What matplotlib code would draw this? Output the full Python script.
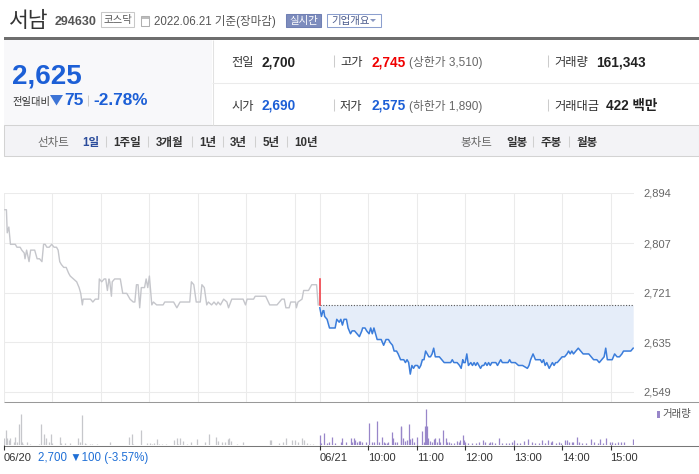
import matplotlib
matplotlib.use('Agg')
import matplotlib.pyplot as plt
from matplotlib.patches import Rectangle, Polygon

plt.rcParams['font.family'] = ['Liberation Sans', 'DejaVu Sans', 'Noto Sans CJK KR']

# ---- quote numbers ----
name = '서남'
code = '294630'
market = '코스닥'
as_of = '2022.06.21 기준(장마감)'
last_price = '2,625'
change = '75'
change_pct = '-2.78%'
prev_close = 2700
day2_high = 2745

# intraday price, (minutes after 09:00, price)
day1_ticks = [
    (1, 2865), (3, 2865), (4, 2825), (6, 2835), (8, 2805), (14, 2805), (16, 2800), (20, 2800),
    (22, 2795), (25, 2790), (26, 2780), (28, 2795), (31, 2775), (33, 2795), (38, 2795), (41, 2780),
    (44, 2780), (47, 2775), (49, 2805), (51, 2805), (53, 2800), (56, 2800), (59, 2805), (62, 2800),
    (65, 2800), (67, 2795), (69, 2775), (71, 2770), (74, 2765), (77, 2765), (80, 2755), (82, 2750),
    (86, 2745), (90, 2740), (93, 2730), (95, 2720), (97, 2700), (98, 2710), (107, 2710), (110, 2705),
    (113, 2710), (117, 2710), (118, 2745), (121, 2740), (124, 2745), (126, 2745), (128, 2725), (130, 2745),
    (131, 2740), (133, 2715), (134, 2740), (137, 2745), (144, 2745), (147, 2720), (152, 2720), (156, 2710),
    (160, 2705), (162, 2705), (164, 2735), (166, 2735), (168, 2695), (170, 2730), (174, 2730), (176, 2745),
    (178, 2730), (180, 2750), (183, 2700), (185, 2705), (189, 2700), (197, 2700), (199, 2705), (210, 2705),
    (214, 2695), (218, 2705), (230, 2705), (232, 2740), (235, 2735), (238, 2705), (240, 2705), (243, 2705),
    (245, 2735), (248, 2730), (251, 2700), (253, 2705), (257, 2700), (260, 2705), (263, 2700), (265, 2705),
    (268, 2700), (272, 2710), (276, 2705), (278, 2695), (282, 2710), (296, 2710), (299, 2700), (301, 2710),
    (309, 2710), (311, 2715), (324, 2715), (329, 2700), (338, 2700), (344, 2710), (347, 2710), (349, 2695),
    (353, 2695), (355, 2705), (361, 2705), (362, 2695), (364, 2705), (369, 2710), (371, 2725), (377, 2725),
    (381, 2735), (387, 2735), (389, 2700),
]
day2_ticks = [
    (0, 2695), (2, 2680), (4, 2690), (5, 2690), (6, 2680), (9, 2675), (12, 2660), (15, 2660),
    (19, 2660), (21, 2675), (24, 2670), (26, 2675), (28, 2665), (30, 2675), (33, 2675), (35, 2660),
    (38, 2650), (40, 2655), (43, 2655), (46, 2650), (49, 2645), (52, 2655), (53, 2660), (56, 2660),
    (58, 2655), (61, 2650), (63, 2660), (65, 2650), (67, 2660), (69, 2650), (71, 2640), (74, 2640),
    (76, 2640), (79, 2630), (82, 2640), (85, 2640), (87, 2635), (90, 2630), (92, 2620), (95, 2620),
    (97, 2615), (100, 2605), (104, 2605), (106, 2600), (108, 2605), (110, 2600), (112, 2580), (114, 2595),
    (116, 2590), (118, 2595), (121, 2595), (123, 2590), (125, 2595), (127, 2605), (129, 2605), (131, 2620),
    (133, 2615), (135, 2610), (137, 2610), (139, 2615), (141, 2625), (143, 2610), (146, 2610), (148, 2610),
    (151, 2605), (154, 2600), (160, 2600), (162, 2600), (164, 2605), (166, 2600), (170, 2600), (173, 2595),
    (175, 2590), (177, 2605), (178, 2600), (180, 2600), (182, 2615), (184, 2595), (187, 2600), (189, 2595),
    (191, 2600), (193, 2595), (195, 2600), (197, 2595), (199, 2590), (201, 2595), (203, 2595), (205, 2600),
    (207, 2595), (209, 2600), (211, 2595), (213, 2600), (215, 2600), (218, 2600), (220, 2595), (222, 2600),
    (224, 2605), (226, 2600), (230, 2600), (233, 2600), (235, 2605), (237, 2600), (242, 2600), (246, 2595),
    (251, 2595), (257, 2590), (259, 2595), (261, 2605), (264, 2615), (267, 2605), (271, 2605), (273, 2605),
    (275, 2600), (277, 2605), (279, 2595), (281, 2600), (284, 2590), (286, 2595), (288, 2600), (290, 2595),
    (292, 2600), (294, 2600), (297, 2605), (300, 2610), (303, 2610), (306, 2615), (308, 2620), (310, 2615),
    (312, 2620), (314, 2615), (317, 2620), (320, 2625), (323, 2620), (326, 2615), (329, 2615), (333, 2615),
    (336, 2610), (339, 2605), (343, 2605), (346, 2600), (349, 2605), (352, 2610), (354, 2625), (356, 2605),
    (359, 2605), (362, 2605), (365, 2615), (368, 2610), (371, 2610), (374, 2615), (376, 2620), (383, 2620),
    (385, 2620), (388, 2625),
]

# volume per minute bar
day1_volume = [
    (0, 2200), (3, 4500), (4, 2000), (6, 1500), (8, 2200), (12, 1000), (14, 2500), (16, 1000),
    (19, 6200), (21, 9300), (22, 1000), (24, 200), (29, 1000), (32, 200), (43, 200), (46, 6300),
    (49, 1000), (50, 3200), (52, 2000), (56, 1000), (58, 3200), (60, 700), (69, 2400), (71, 500),
    (76, 500), (82, 500), (91, 2200), (94, 800), (97, 9000), (100, 700), (102, 200), (106, 200),
    (109, 200), (115, 200), (131, 800), (155, 2400), (158, 3200), (160, 200), (169, 4600), (177, 500),
    (181, 500), (183, 200), (186, 500), (189, 1700), (192, 200), (196, 200), (201, 200), (211, 1500),
    (214, 2000), (216, 200), (218, 2000), (221, 1200), (226, 200), (232, 1000), (239, 1700), (249, 800),
    (254, 3200), (263, 2500), (265, 1200), (270, 1000), (274, 1000), (277, 1800), (279, 2000), (281, 1200),
    (289, 200), (296, 1000), (329, 1500), (331, 1500), (340, 500), (345, 1000), (349, 2200), (357, 1500),
    (360, 1500), (364, 1000), (369, 2200), (371, 1500), (375, 500), (379, 200), (383, 200),
]
day2_volume = [
    (0, 3000), (2, 500), (5, 3500), (9, 500), (11, 1000), (15, 2500), (19, 500), (26, 1000),
    (28, 2200), (32, 1000), (38, 2000), (40, 1000), (42, 2200), (44, 1500), (46, 1000), (48, 1200),
    (50, 1200), (52, 800), (57, 800), (61, 6600), (65, 1000), (67, 1000), (71, 7300), (73, 1000),
    (77, 2300), (79, 1000), (81, 500), (83, 500), (85, 1000), (89, 3800), (90, 2000), (93, 1000),
    (96, 1000), (100, 5300), (101, 5800), (103, 2000), (106, 1200), (108, 1400), (110, 6400), (112, 1800),
    (114, 2200), (116, 1000), (120, 2400), (127, 4200), (129, 1000), (130, 5700), (131, 10800), (133, 5600),
    (134, 2200), (137, 1200), (139, 1000), (141, 1800), (143, 2000), (145, 1000), (147, 2200), (149, 1000),
    (153, 4600), (156, 2200), (158, 1000), (160, 1000), (162, 500), (166, 500), (170, 1200), (172, 1000),
    (174, 1500), (177, 3000), (178, 1500), (180, 1000), (184, 500), (189, 500), (193, 500), (197, 1000),
    (202, 1500), (205, 1000), (209, 500), (211, 800), (213, 1000), (217, 500), (222, 2200), (226, 500),
    (230, 500), (234, 500), (238, 1000), (241, 1500), (244, 500), (248, 500), (253, 1200), (258, 1800),
    (263, 1000), (267, 500), (271, 500), (275, 1500), (279, 500), (283, 1500), (286, 1000), (288, 1200),
    (292, 500), (296, 1000), (299, 500), (303, 1500), (306, 1500), (308, 1000), (312, 1000), (314, 1000),
    (319, 2500), (321, 1000), (325, 500), (329, 500), (336, 1800), (339, 1000), (345, 500), (347, 1800),
    (350, 500), (354, 2000), (359, 1000), (362, 1000), (366, 500), (369, 1000), (373, 800), (376, 1000),
    (388, 1900),
]

y_ticks = [2549, 2635, 2721, 2807, 2894]
day2_start = 391          # day 2 09:00 on the shared minute axis
x_end = 780
grid_minutes = [0, 60, 120, 180, 240, 300, 360] + [day2_start + 60 * k for k in range(7)]
time_ticks = [0] + [day2_start + 60 * k for k in range(7)]
time_labels = ['06/20', '06/21', '10:00', '11:00', '12:00', '13:00', '14:00', '15:00']

BLUE = '#1c5fd6'
W, H = 699, 474

fig = plt.figure(figsize=(W / 100, H / 100), dpi=100)

# background canvas in pixel units
bg = fig.add_axes([0, 0, 1, 1])
bg.set_xlim(0, W)
bg.set_ylim(H, 0)
bg.axis('off')


def box(x0, y0, x1, y1, fc='none', ec='none', lw=0.75):
    bg.add_patch(Rectangle((x0, y0), x1 - x0, y1 - y0, facecolor=fc, edgecolor=ec, lw=lw))


def hline(y, x0, x1, c, lw=0.75):
    bg.plot([x0, x1], [y, y], color=c, lw=lw, solid_capstyle='butt')


def vline(x, y0, y1, c, lw=0.75):
    bg.plot([x, x], [y0, y1], color=c, lw=lw, solid_capstyle='butt')


def t(x, y, s, size, color, weight='normal', ha='left'):
    bg.text(x, y, s, fontsize=size, color=color, fontweight=weight, ha=ha, va='baseline')


# header
t(9, 27, name, 15.5, '#333333')
t(55, 25, code, 9, '#555555', 'bold')
box(101, 11.5, 134, 26.5, fc='white', ec='#c8c8c8')
t(117.5, 23, market, 7.5, '#555555', ha='center')
box(140.5, 15.5, 149, 25.5, fc='white', ec='#b0b0b0')
hline(18, 140.5, 149, '#b0b0b0', 1.2)
t(154, 24.5, as_of, 8.3, '#555555')
box(286, 13.5, 321, 27, fc='#7d8cbd', ec='#7080b4')
t(303.5, 24, '실시간', 7.5, 'white', ha='center')
box(327, 13.5, 381, 27, fc='white', ec='#8c9fce')
t(331, 24, '기업개요', 7.5, '#4a5a8c')
bg.add_patch(Polygon([(370, 19), (376, 19), (373, 22)], closed=True, fc='#8a98c0', ec='none'))
box(4, 37, W, 40, fc='#6e6e6e')

# quote panel
box(4, 40, 212, 125, fc='#f8f8fa')
vline(212.5, 40, 125, '#e2e2e2')
hline(82.5, 212, W, '#ebebeb')
t(12, 83, last_price, 20, BLUE, 'bold')
t(12, 104.5, '전일대비', 7.4, '#333333')
bg.add_patch(Polygon([(50, 95), (63, 95), (56.5, 105.5)], closed=True, fc='#3d74d6', ec='none'))
t(64, 105, change, 12.4, BLUE, 'bold')
vline(88, 95, 106, '#cccccc')
t(93, 105, change_pct, 12.4, BLUE, 'bold')

rows = [
    (66, [('전일', '2,700', '#222222', None), ('고가', '2,745', '#f00000', '(상한가 3,510)'),
          ('거래량', '161,343', '#222222', None)]),
    (109.5, [('시가', '2,690', BLUE, None), ('저가', '2,575', BLUE, '(하한가 1,890)'),
             ('거래대금', '422 백만', '#222222', None)]),
]
col_x = [(231, 262), (340, 371), (554, 596)]
for y, cells in rows:
    for (lx, vx), (lab, val, col, extra) in zip(col_x, cells):
        t(lx, y, lab, 8.8, '#333333')
        t(vx + (10 if lab == '거래대금' else 0), y, val, 9.8, col, 'bold')
        if extra:
            t(409, y, extra, 8.5, '#666666')
    vline(334, y - 11, y + 1, '#cccccc')
    vline(548, y - 11, y + 1, '#cccccc')

# tab bar
box(4, 125, W, 156, fc='#f3f3f6', ec='#d3d3d3')
t(37, 146, '선차트', 8.3, '#666666')
line_tabs = [('1일', 82), ('1주일', 113), ('3개월', 156), ('1년', 199), ('3년', 230), ('5년', 263), ('10년', 294)]
for i, (lab, x) in enumerate(line_tabs):
    t(x, 146, lab, 8.3, '#2b4c9b' if i == 0 else '#333333', 'bold')
for x in [106, 148, 192, 223, 255, 287, 533, 569]:
    vline(x, 136, 147, '#d0d0d0')
t(460, 146, '봉차트', 8.3, '#666666')
for lab, x in [('일봉', 506), ('주봉', 541), ('월봉', 577)]:
    t(x, 146, lab, 8.3, '#333333', 'bold')

# price chart
d1_m, d1_p = zip(*day1_ticks)
d2_m, d2_p = zip(*day2_ticks)
d2_x = [day2_start + m for m in d2_m]

ax = fig.add_axes([4 / W, 1 - 402 / H, 630 / W, 209 / H])
ax.set_xlim(0, x_end)
ax.set_ylim(2531.66, 2894)
ax.patch.set_visible(False)
for s in ax.spines.values():
    s.set_visible(False)
ax.set_xticks(grid_minutes)
ax.tick_params(axis='x', length=0, labelbottom=False)
ax.yaxis.tick_right()
ax.set_yticks(y_ticks)
ax.set_yticklabels([f'{v:,}' for v in y_ticks])
ax.tick_params(axis='y', length=0, pad=6.5, labelsize=8, labelcolor='#666666')
ax.grid(True, color='#ebebeb', lw=0.75)
ax.set_axisbelow(True)

ax.plot(d1_m, d1_p, color='#c5c6cb', lw=1)
ax.fill_between(d2_x, d2_p, prev_close, color='#e5edf9', lw=0)
ax.hlines(prev_close, d2_x[0], x_end, colors='#555555', linestyles=(0, (1, 1.5)), lw=0.8)
ax.plot([day2_start, day2_start], [day2_high, prev_close], color='#f2323c', lw=1.1)
ax.plot(d2_x, d2_p, color='#3b7ddb', lw=1.1)

hline(402, 4, W, '#999999')

# volume chart
v1_m, v1_v = zip(*day1_volume)
v2_m, v2_v = zip(*day2_volume)
vax = fig.add_axes([4 / W, 1 - 445 / H, 630 / W, 43 / H])
vax.set_xlim(0, x_end)
vax.set_ylim(0, 12900)
vax.patch.set_visible(False)
for s in vax.spines.values():
    s.set_visible(False)
vax.set_yticks([])
vax.vlines(v1_m, 0, v1_v, colors='#c6c7cb', lw=0.9)
vax.vlines([day2_start + m for m in v2_m], 0, v2_v, colors='#9886c9', lw=0.9)
vax.set_xticks(time_ticks)
vax.set_xticklabels(time_labels)
vax.tick_params(axis='x', direction='out', length=3.6, width=0.8, color='#333333',
                labelsize=8, labelcolor='#333333', pad=2)
for lbl in vax.get_xticklabels():
    lbl.set_ha('left')

hline(445.5, 4, W, '#777777')
t(38, 461, '2,700 ▼100 (-3.57%)', 8.3, '#1f6fd6')
box(657, 411, 660, 418, fc='#9886c9')
t(662, 417.5, '거래량', 7.5, '#555555')

plt.savefig('out.png', dpi=100)
